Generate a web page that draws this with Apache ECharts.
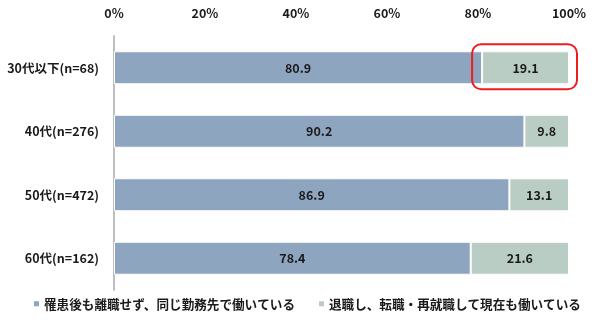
<!DOCTYPE html>
<html><head><meta charset="utf-8">
<script src="https://cdn.jsdelivr.net/npm/echarts@6/dist/echarts.min.js"></script>
<style>html,body{margin:0;padding:0;background:#fff}#c{width:600px;height:334px}</style>
</head><body><div id="c"></div>
<script>
const categories = ['30代以下(n=68)', '40代(n=276)', '50代(n=472)', '60代(n=162)'];
const seriesNames = ['罹患後も離職せず、同じ勤務先で働いている', '退職し、転職・再就職して現在も働いている'];
const stayed = [80.9, 90.2, 86.9, 78.4];
const changed = [19.1, 9.8, 13.1, 21.6];
const xTicks = [0, 20, 40, 60, 80, 100];
const highlightIndex = 0;

const FONT = '"Noto Sans CJK JP", "Noto Sans", sans-serif';
const chart = echarts.init(document.getElementById('c'), null, {renderer: 'canvas'});
const labelStyle = {show: true, position: 'inside', color: '#1a1a1a', fontSize: 12.5, fontWeight: 'bold', fontFamily: FONT, formatter: p => p.value.toFixed(1)};
chart.setOption({
  animation: false,
  textStyle: {fontFamily: FONT},
  grid: {left: 114, right: 31, top: 36, bottom: 44},
  legend: {
    bottom: 19, left: 27, itemWidth: 7, itemHeight: 7, itemGap: 22,
    icon: 'rect',
    textStyle: {fontSize: 12.6, fontWeight: 'bold', color: '#1a1a1a', fontFamily: FONT, padding: [0, 0, 0, -1]},
    data: seriesNames
  },
  xAxis: {
    type: 'value', position: 'top', min: xTicks[0], max: xTicks[xTicks.length - 1], interval: 20,
    axisLine: {show: false}, axisTick: {show: false}, splitLine: {show: false},
    axisLabel: {formatter: '{value}%', fontSize: 12.5, fontWeight: 'bold', color: '#1a1a1a', margin: 16, fontFamily: FONT}
  },
  yAxis: {
    type: 'category', inverse: true, data: categories,
    axisLine: {show: true, lineStyle: {color: '#bfbfbf', width: 2}},
    axisTick: {show: false},
    axisLabel: {fontSize: 12.5, fontWeight: 'bold', color: '#1a1a1a', margin: 15, fontFamily: FONT}
  },
  series: [
    {name: seriesNames[0], type: 'bar', stack: 't', data: stayed, barWidth: 33,
     itemStyle: {color: '#8ea5bf', borderColor: '#fff', borderWidth: 1}, label: labelStyle},
    {name: seriesNames[1], type: 'bar', stack: 't', data: changed, barWidth: 33,
     itemStyle: {color: '#bacdc4', borderColor: '#fff', borderWidth: 1}, label: labelStyle}
  ]
});
// Red highlight around the second segment of the first category
const p0 = chart.convertToPixel({gridIndex: 0}, [stayed[highlightIndex], highlightIndex]);
const p1 = chart.convertToPixel({gridIndex: 0}, [stayed[highlightIndex] + changed[highlightIndex], highlightIndex]);
chart.setOption({
  graphic: [{
    type: 'rect', z: 100,
    shape: {x: p0[0] - 10, y: p0[1] - 23.5, width: p1[0] - p0[0] + 18, height: 45, r: 9},
    style: {fill: 'none', stroke: '#ee1c1c', lineWidth: 2}
  }]
});
</script></body></html>
